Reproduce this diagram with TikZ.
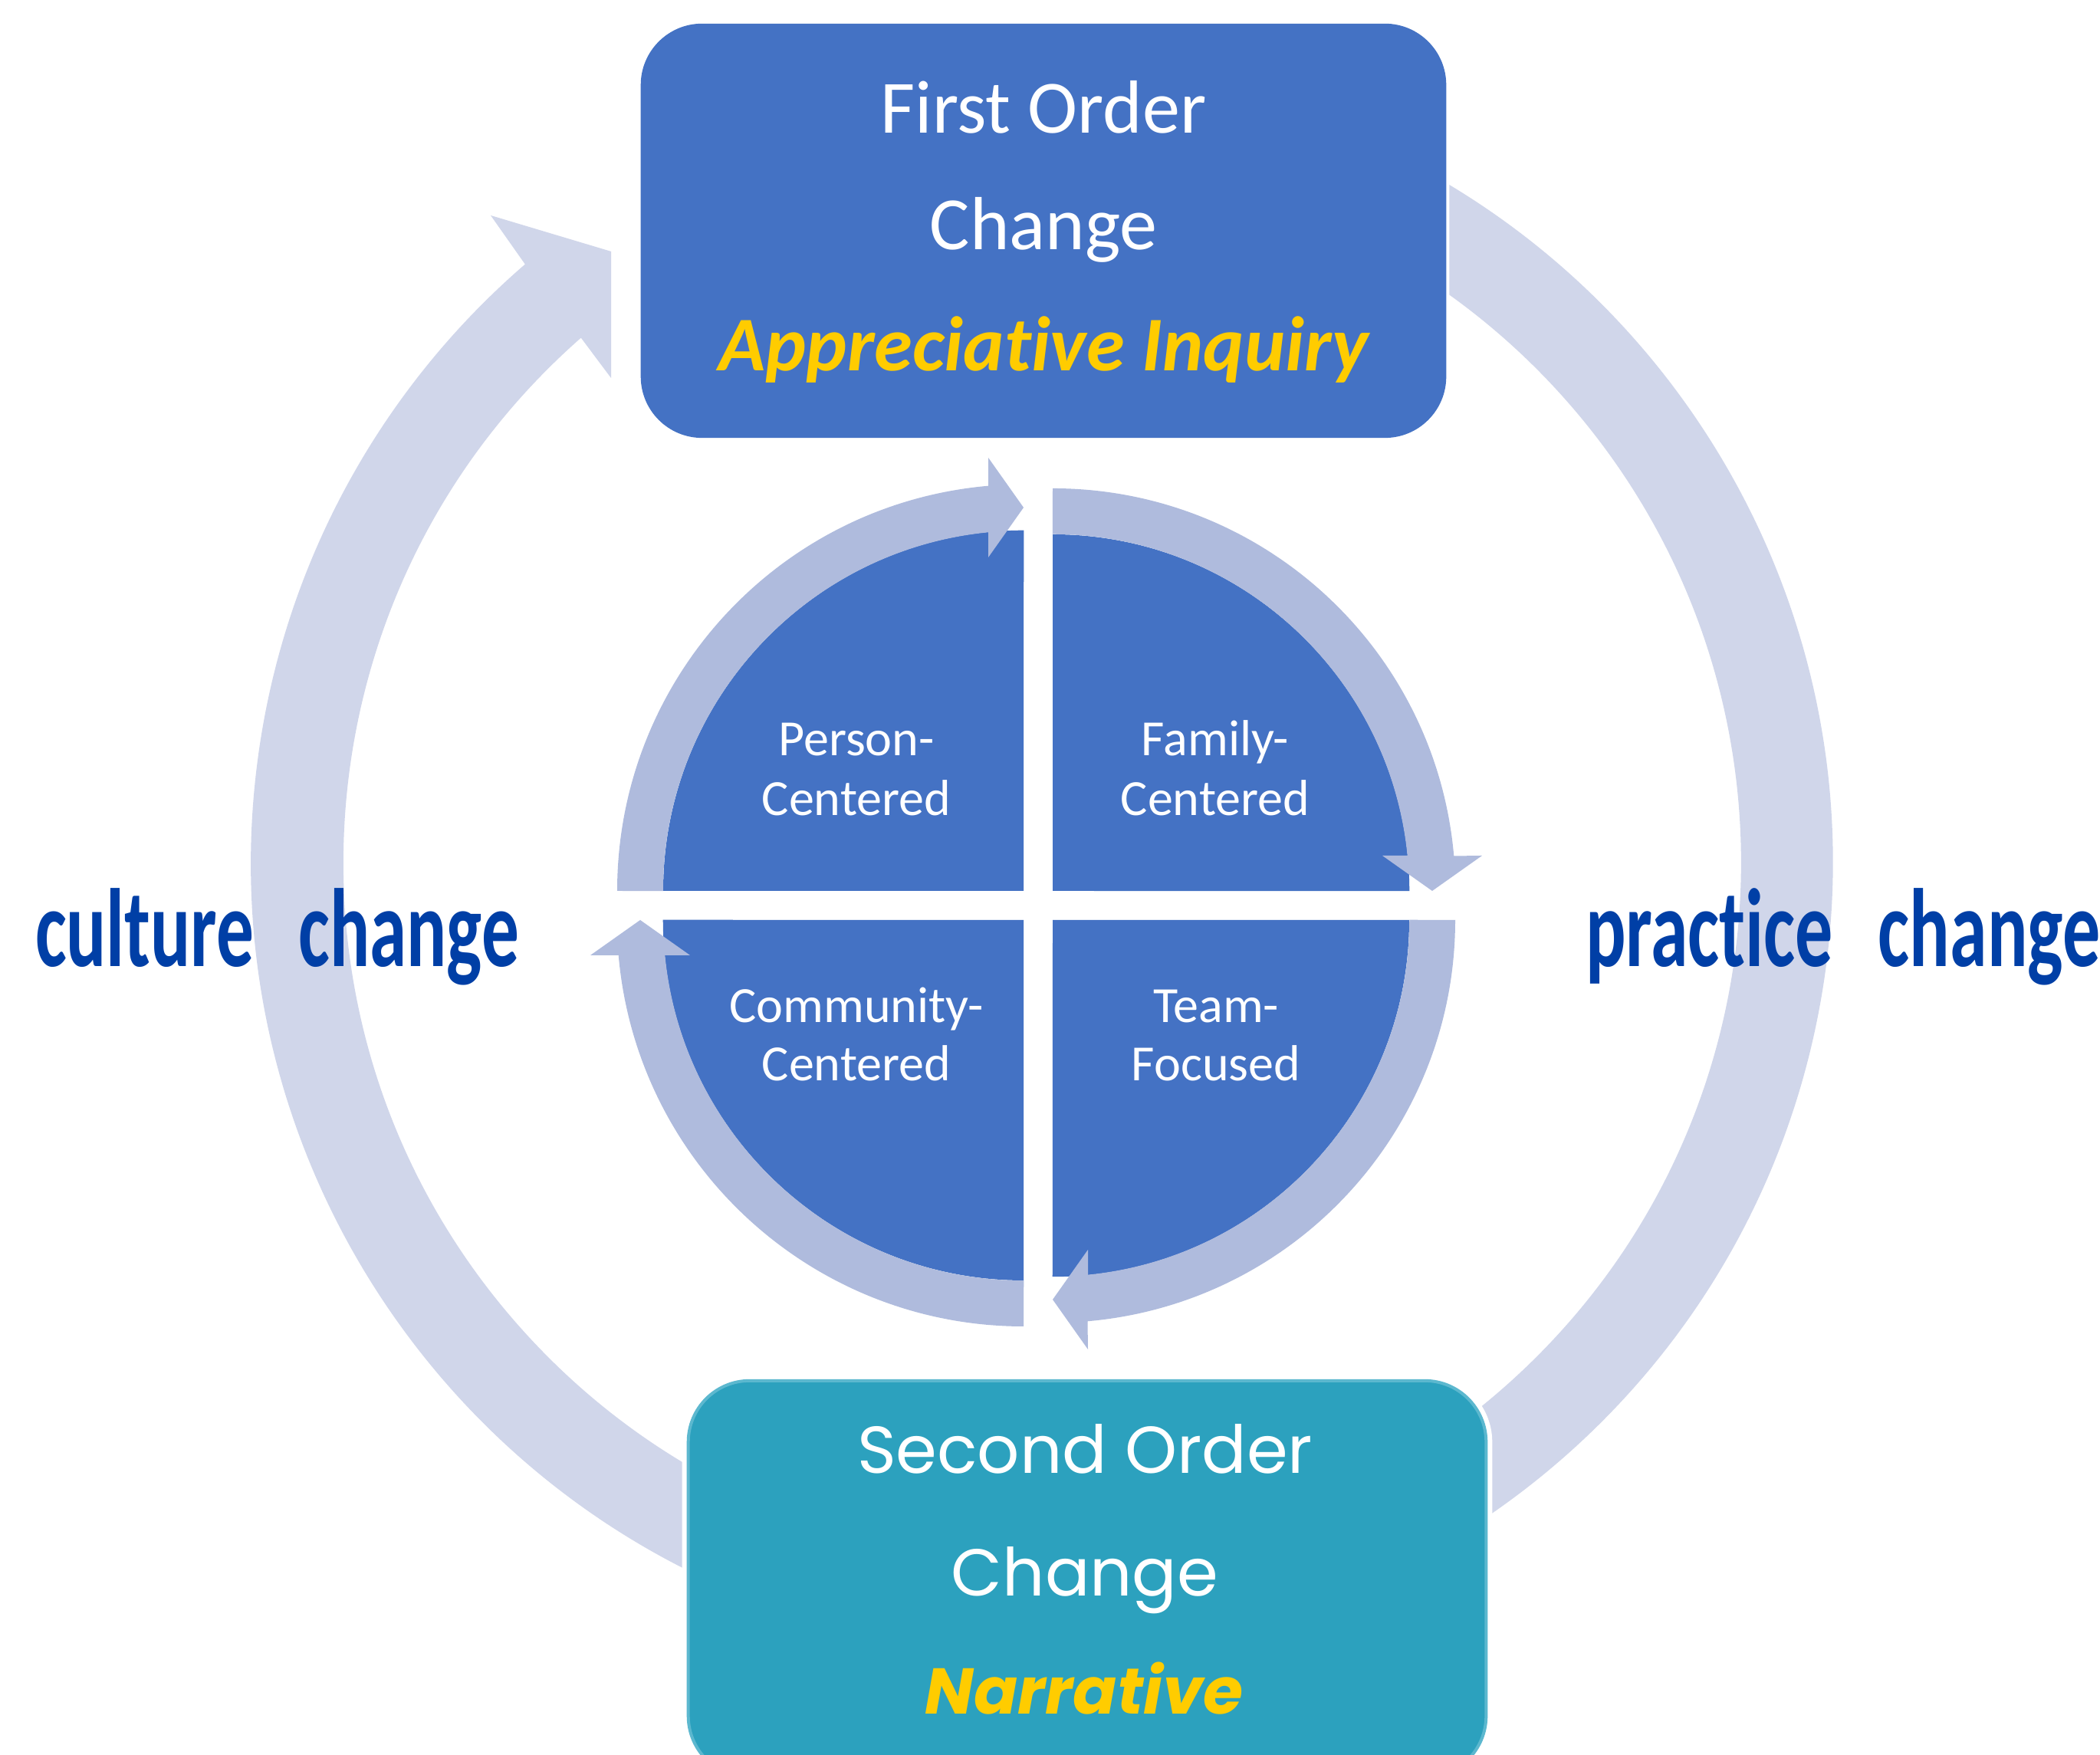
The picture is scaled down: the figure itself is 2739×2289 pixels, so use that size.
\documentclass[tikz,border=0pt]{standalone}
\usepackage{graphicx}
\usepackage{fontspec}
\setmainfont{Carlito}[Ligatures={NoCommon,NoContextual}, Contextuals=NoAlternate]
\newfontfamily\geofont{Poppins}
\usetikzlibrary{calc}

\definecolor{boxblue}{RGB}{68,114,196}
\definecolor{boxteal}{RGB}{44,161,190}
\definecolor{tealedge}{RGB}{92,184,207}
\definecolor{ringpale}{RGB}{208,214,234}
\definecolor{ringmid}{RGB}{175,187,221}
\definecolor{labelblue}{RGB}{0,63,166}
\definecolor{gold}{RGB}{255,204,0}

\tikzset{
  panel/.style={rectangle, rounded corners=0.8cm, inner sep=0pt, outer sep=0pt},
  firstpanel/.style={panel, fill=boxblue, preaction={draw=white, line width=0.08cm},
    minimum width=10.50cm, minimum height=5.40cm},
  secondpanel/.style={panel, fill=boxteal, draw=tealedge, line width=0.04cm,
    preaction={draw=white, line width=0.16cm},
    minimum width=10.40cm, minimum height=5.17cm},
  line/.style={inner sep=0pt, outer sep=0pt, anchor=base},
  headline/.style={line, text=white, font=\fontsize{27.9pt}{33pt}\selectfont},
  headaccent/.style={line, text=gold, font=\fontsize{28.7pt}{34pt}\selectfont\bfseries\itshape},
  geoline/.style={line, text=white, font=\geofont\fontsize{24.6pt}{30pt}\selectfont},
  geoaccent/.style={line, text=gold, font=\geofont\fontsize{24pt}{30pt}\selectfont\bfseries\itshape},
  quadtext/.style={line, text=white, font=\fontsize{18.8pt}{22pt}\selectfont},
  sidelabel/.style={inner sep=0pt, outer sep=0pt, anchor=base west, text=labelblue,
    font=\fontsize{41.3pt}{48pt}\selectfont\bfseries},
}

\begin{document}
\begin{tikzpicture}[x=0.01cm, y=0.01cm]
  \fill[white] (0,0) rectangle (2739,2289);
  \useasboundingbox (0,0) rectangle (2739,2289);

  % large circular arrow running clockwise behind both panels
  \coordinate (bigc) at (1359,1164);
  \fill[ringpale] ($(bigc)+(80:1031)$) arc[start angle=80, end angle=-229.2, radius=10.31cm]
    -- (640,2008) -- (797,1961) -- (797,1796)
    -- ($(bigc)+(-228.7:911)$) arc[start angle=-228.7, end angle=80, radius=9.11cm] -- cycle;

  % four quarter discs
  \coordinate (ctl) at (1335,1127);
  \coordinate (ctr) at (1373,1127);
  \coordinate (cbr) at (1373,1089);
  \coordinate (cbl) at (1335,1089);
  \fill[boxblue] (ctl) -- ++(-470,0) arc[start angle=180, end angle=90, radius=4.70cm] -- cycle;
  \fill[boxblue] (ctr) -- ++(0,465) arc[start angle=90, end angle=0, radius=4.65cm] -- cycle;
  \fill[boxblue] (cbr) -- ++(465,0) arc[start angle=0, end angle=-90, radius=4.65cm] -- cycle;
  \fill[boxblue] (cbl) -- ++(0,-470) arc[start angle=270, end angle=180, radius=4.70cm] -- cycle;

  % quarter arrows around the discs
  \fill[ringmid] ($(ctl)+(180:530)$) arc[start angle=180, end angle=95, radius=5.30cm]
    -- ($(ctl)+(-46,565)$) -- ($(ctl)+(0,500)$) -- ($(ctl)+(-46,435)$)
    -- ($(ctl)+(95.6:470)$) arc[start angle=95.6, end angle=180, radius=4.70cm] -- cycle;
  \fill[ringmid] ($(ctr)+(90:525)$) arc[start angle=90, end angle=5, radius=5.25cm]
    -- ($(ctr)+(560,46)$) -- ($(ctr)+(495,0)$) -- ($(ctr)+(430,46)$)
    -- ($(ctr)+(5.7:465)$) arc[start angle=5.7, end angle=90, radius=4.65cm] -- cycle;
  \fill[ringmid] ($(cbr)+(0:525)$) arc[start angle=0, end angle=-85, radius=5.25cm]
    -- ($(cbr)+(46,-560)$) -- ($(cbr)+(0,-495)$) -- ($(cbr)+(46,-430)$)
    -- ($(cbr)+(-84.3:465)$) arc[start angle=-84.3, end angle=0, radius=4.65cm] -- cycle;
  \fill[ringmid] ($(cbl)+(270:530)$) arc[start angle=270, end angle=185, radius=5.30cm]
    -- ($(cbl)+(-565,-46)$) -- ($(cbl)+(-500,0)$) -- ($(cbl)+(-435,-46)$)
    -- ($(cbl)+(185.6:470)$) arc[start angle=185.6, end angle=270, radius=4.70cm] -- cycle;

  % quadrant labels
  \node[quadtext] (person1) at (1117,1303) {Person-};
  \node[quadtext] (person2) at (1117,1225) {Centered};
  \node[quadtext] (family1) at (1585,1303) {Family-};
  \node[quadtext] (family2) at (1585,1225) {Centered};
  \node[quadtext] (community1) at (1117,955) {Community-};
  \node[quadtext] (community2) at (1117,879) {Centered};
  \node[quadtext] (team1) at (1586,955) {Team-};
  \node[quadtext] (team2) at (1586,879) {Focused};

  % top panel
  \node[firstpanel] (first) at (1361,1988) {};
  \node[headline] (first1) at (1361,2115) {First Order};
  \node[headline] (first2) at (1361,1963) {Change};
  \node[headaccent] (first3) at (1361,1805) {Appreciat\kern0pt ive Inquiry};

  % bottom panel
  \node[secondpanel] (second) at (1418,229.5) {};
  \node[geoline] (second1) at (1415,367) {Second Order};
  \node[geoline] (second2) at (1415,207) {Change};
  \node[geoaccent] (second3) at (1414,53) {Narrative};

  % side labels
  \node[sidelabel] (culture) at (46,1028) {\scalebox{0.67}[1]{culture\hspace{0.6em}change}};
  \node[sidelabel] (practice) at (2068,1028) {\scalebox{0.675}[1]{pract\kern0pt ice\hspace{0.6em}change}};
\end{tikzpicture}
\end{document}
